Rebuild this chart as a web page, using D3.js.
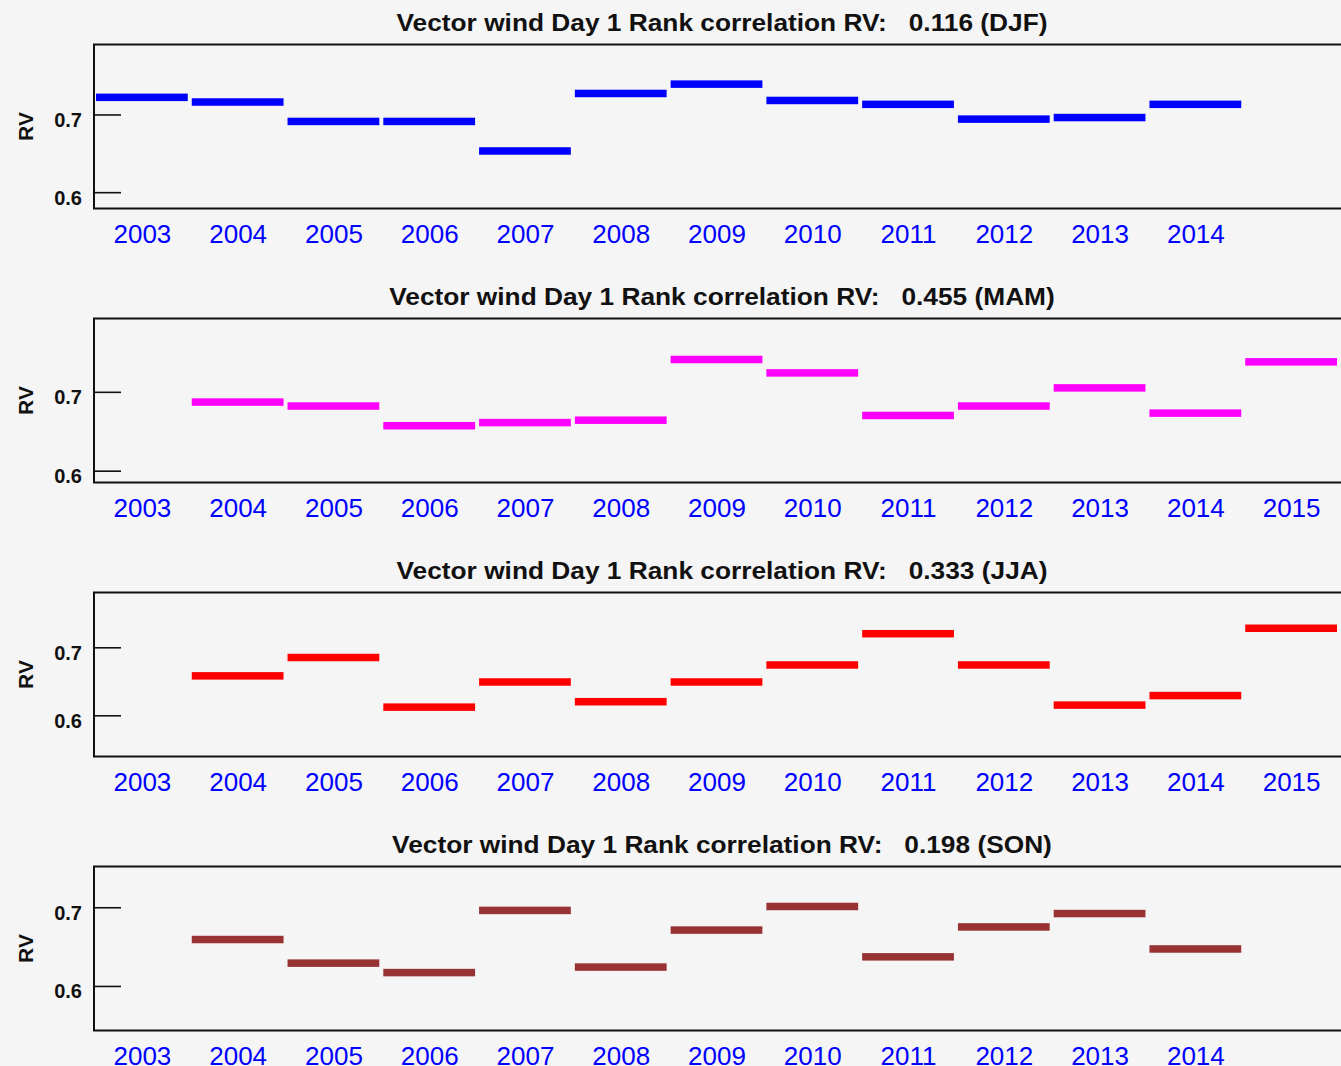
<!DOCTYPE html>
<html>
<head>
<meta charset="utf-8">
<script src="https://cdnjs.cloudflare.com/ajax/libs/d3/7.8.5/d3.min.js"></script>
<style>
  html, body { margin: 0; padding: 0; background: #f5f5f5; }
  svg { display: block; }
  text { font-family: "Liberation Sans", Arial, sans-serif; }
</style>
</head>
<body>
<script>
// yearly RV values, null where a year has no bar
var years = [2003, 2004, 2005, 2006, 2007, 2008, 2009, 2010, 2011, 2012, 2013, 2014, 2015];
var djf = [0.722, 0.716, 0.691, 0.691, 0.653, 0.727, 0.739, 0.718, 0.713, 0.694, 0.696, 0.713, null];
var mam = [null, 0.687, 0.682, 0.657, 0.661, 0.664, 0.741, 0.724, 0.670, 0.682, 0.705, 0.673, 0.738];
var jja = [null, 0.658, 0.685, 0.612, 0.649, 0.620, 0.649, 0.674, 0.720, 0.674, 0.615, 0.629, 0.728];
var son = [null, 0.659, 0.629, 0.617, 0.696, 0.624, 0.671, 0.701, 0.637, 0.675, 0.692, 0.647, null];

var seasons = ['DJF', 'MAM', 'JJA', 'SON'];
var skill = ['0.116', '0.455', '0.333', '0.198'];
var yTicks = [0.6, 0.7];

var series = [djf, mam, jja, son];
var colors = ['#0000ff', '#ff00ff', '#ff0000', '#993333'];
// y ranges of each panel (IDL picked them per season)
var yRanges = [[0.579, 0.790], [0.585, 0.793], [0.5394, 0.7806], [0.5434, 0.7518]];

var W = 1341, H = 1066;
var left = 94, plotRight = 1339;
var boxH = 164, firstTop = 44.5, step = 274;

var svg = d3.select('body').append('svg')
	.attr('width', W)
	.attr('height', H);

svg.append('rect')
	.attr('width', W)
	.attr('height', H)
	.attr('fill', '#f5f5f5');

var x = d3.scaleLinear()
	.domain([years[0] - 0.5, years[years.length - 1] + 0.5])
	.range([left, plotRight]);

var titleScale = null;

series.forEach(function(vals, i) {
	var top = firstTop + i * step;
	var bottom = top + boxH;
	var g = svg.append('g');

	var y = d3.scaleLinear()
		.domain(yRanges[i])
		.range([bottom, top]);

	// bars: one flat segment per year
	var data = years.map(function(yr, j) { return {year: yr, v: vals[j]}; })
		.filter(function(d) { return d.v !== null; });

	g.selectAll('rect.bar')
		.data(data)
		.enter().append('rect')
		.attr('class', 'bar')
		.attr('x', function(d) { return x(d.year - 0.5) + 2; })
		.attr('width', function(d) { return x(d.year + 0.5) - x(d.year - 0.5) - 4; })
		.attr('y', function(d) { return y(d.v) - 3.75; })
		.attr('height', 7.5)
		.attr('fill', colors[i]);

	// box
	g.append('rect')
		.attr('x', left)
		.attr('y', top)
		.attr('width', W + 10 - left)
		.attr('height', boxH)
		.attr('fill', 'none')
		.attr('stroke', '#111')
		.attr('stroke-width', 2);

	// y axis: ticks point inwards, labels hang just under the tick
	var yAxis = g.append('g')
		.attr('transform', 'translate(' + left + ',0)')
		.call(d3.axisLeft(y)
			.tickValues(yTicks)
			.tickFormat(d3.format('.1f'))
			.tickSizeInner(-27)
			.tickSizeOuter(0)
			.tickPadding(12));
	yAxis.select('.domain').remove();
	yAxis.selectAll('.tick line').attr('stroke', '#111').attr('stroke-width', 1.6);
	yAxis.selectAll('.tick text')
		.attr('dy', '12px')
		.attr('fill', '#111')
		.style('font-size', '20px')
		.style('font-weight', 'bold')
		.style('font-family', '"Liberation Sans", Arial, sans-serif');

	// x labels only up to the last year that has a value
	var lastYear = data[data.length - 1].year;
	var labelYears = years.filter(function(yr) { return yr <= lastYear; });
	var xAxis = g.append('g')
		.attr('transform', 'translate(0,' + bottom + ')')
		.call(d3.axisBottom(x)
			.tickValues(labelYears)
			.tickFormat(d3.format('d'))
			.tickSize(0)
			.tickPadding(16.5));
	xAxis.select('.domain').remove();
	xAxis.selectAll('.tick text')
		.attr('fill', '#0000ff')
		.style('font-size', '26px')
		.style('font-family', '"Liberation Sans", Arial, sans-serif');

	// RV label
	g.append('text')
		.attr('transform', 'translate(33,' + (top + boxH / 2) + ') rotate(-90)')
		.attr('text-anchor', 'middle')
		.attr('fill', '#111')
		.style('font-size', '21px')
		.style('font-weight', 'bold')
		.text('RV');

	// title, stretched a bit to match the wide IDL font
	var t = g.append('text')
		.attr('y', top - 14)
		.attr('fill', '#111')
		.style('font-size', '23px')
		.style('font-weight', 'bold')
		.style('white-space', 'pre')
		.text('Vector wind Day 1 Rank correlation RV:   ' + skill[i] + ' (' + seasons[i] + ')');
	var natural = t.node().getComputedTextLength();
	if (titleScale === null) titleScale = 651 / natural;
	var len = natural * titleScale;
	t.attr('x', 722 - len / 2)
		.attr('textLength', len)
		.attr('lengthAdjust', 'spacingAndGlyphs');
});
</script>
</body>
</html>
